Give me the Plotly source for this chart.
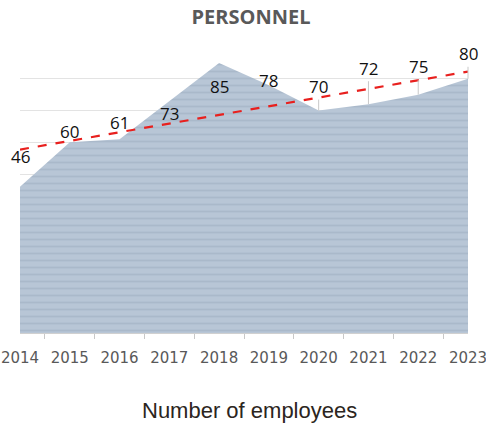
import numpy as np
import plotly.graph_objects as go

years = [2014, 2015, 2016, 2017, 2018, 2019, 2020, 2021, 2022, 2023]
employees = [46, 60, 61, 73, 85, 78, 70, 72, 75, 80]
year_labels = [str(y) for y in years]

# pixel offsets of each value label from its point (negative = above)
label_dy = [-30, -11, -17, 12, 24, -5, -24, -36, -28, -25]
leader_line = [False, False, False, False, False, False, True, True, True, True]

# linear trend of the headcount
coef = np.polyfit(years, employees, 1)
trend = np.polyval(coef, years)

fig = go.Figure()

fig.add_trace(go.Scatter(
    x=years, y=employees, mode="lines", line=dict(width=0),
    fill="tozeroy",
    fillcolor="#b4c3d3",
    fillpattern=dict(shape="-", fgcolor="#9babbd", bgcolor="#b8c6d6",
                     size=7, solidity=0.25),
    hoverinfo="skip", showlegend=False,
))

fig.add_trace(go.Scatter(
    x=years, y=trend, mode="lines",
    line=dict(color="#e8201e", width=2.2, dash="dash"),
    hoverinfo="skip", showlegend=False,
))

annotations = []
for yr, v, dy, ll in zip(years, employees, label_dy, leader_line):
    a = dict(x=yr, y=v, xref="x", yref="y", text=str(v),
             font=dict(family="Open Sans", size=17, color="#111111"))
    if ll:
        a.update(showarrow=True, arrowhead=0, arrowwidth=1,
                 arrowcolor="#c8c8c8", ax=0, ay=dy, standoff=0)
    else:
        a.update(showarrow=False, yshift=-dy)
    annotations.append(a)

annotations.append(dict(
    x=(250 - 20) / 448, y=-(410 - 333) / 286, xref="paper", yref="paper",
    xanchor="center", yanchor="middle", showarrow=False,
    text="Number of employees",
    font=dict(family="Liberation Sans", size=22, color="#2b2520")))

fig.update_layout(
    width=486, height=423,
    margin=dict(l=20, r=18, t=47, b=90, autoexpand=False),
    paper_bgcolor="white", plot_bgcolor="white",
    title=dict(text="<b>PERSONNEL</b>", x=251 / 486, xanchor="center",
               y=1 - 17 / 423, yanchor="middle",
               font=dict(family="Open Sans", size=20, color="#595959")),
    annotations=annotations,
    xaxis=dict(
        range=[2014, 2023], tickvals=years, ticktext=year_labels,
        ticks="", showgrid=False, zeroline=False, automargin=False,
        showline=True, linecolor="#d0d0d0", linewidth=1,
        ticklabelstandoff=11, ticklabeloverflow="allow",
        tickfont=dict(family="DejaVu Sans", size=15, color="#595959"),
        minor=dict(tick0=2014.5, dtick=1, ticks="outside", ticklen=5,
                   tickcolor="#c8c8c8", showgrid=False),
    ),
    yaxis=dict(
        range=[0, 90], dtick=10, showticklabels=False, automargin=False,
        showgrid=True, gridcolor="#e3e3e3", gridwidth=1,
        zeroline=False, showline=False,
    ),
)

fig.write_html("out.html")
